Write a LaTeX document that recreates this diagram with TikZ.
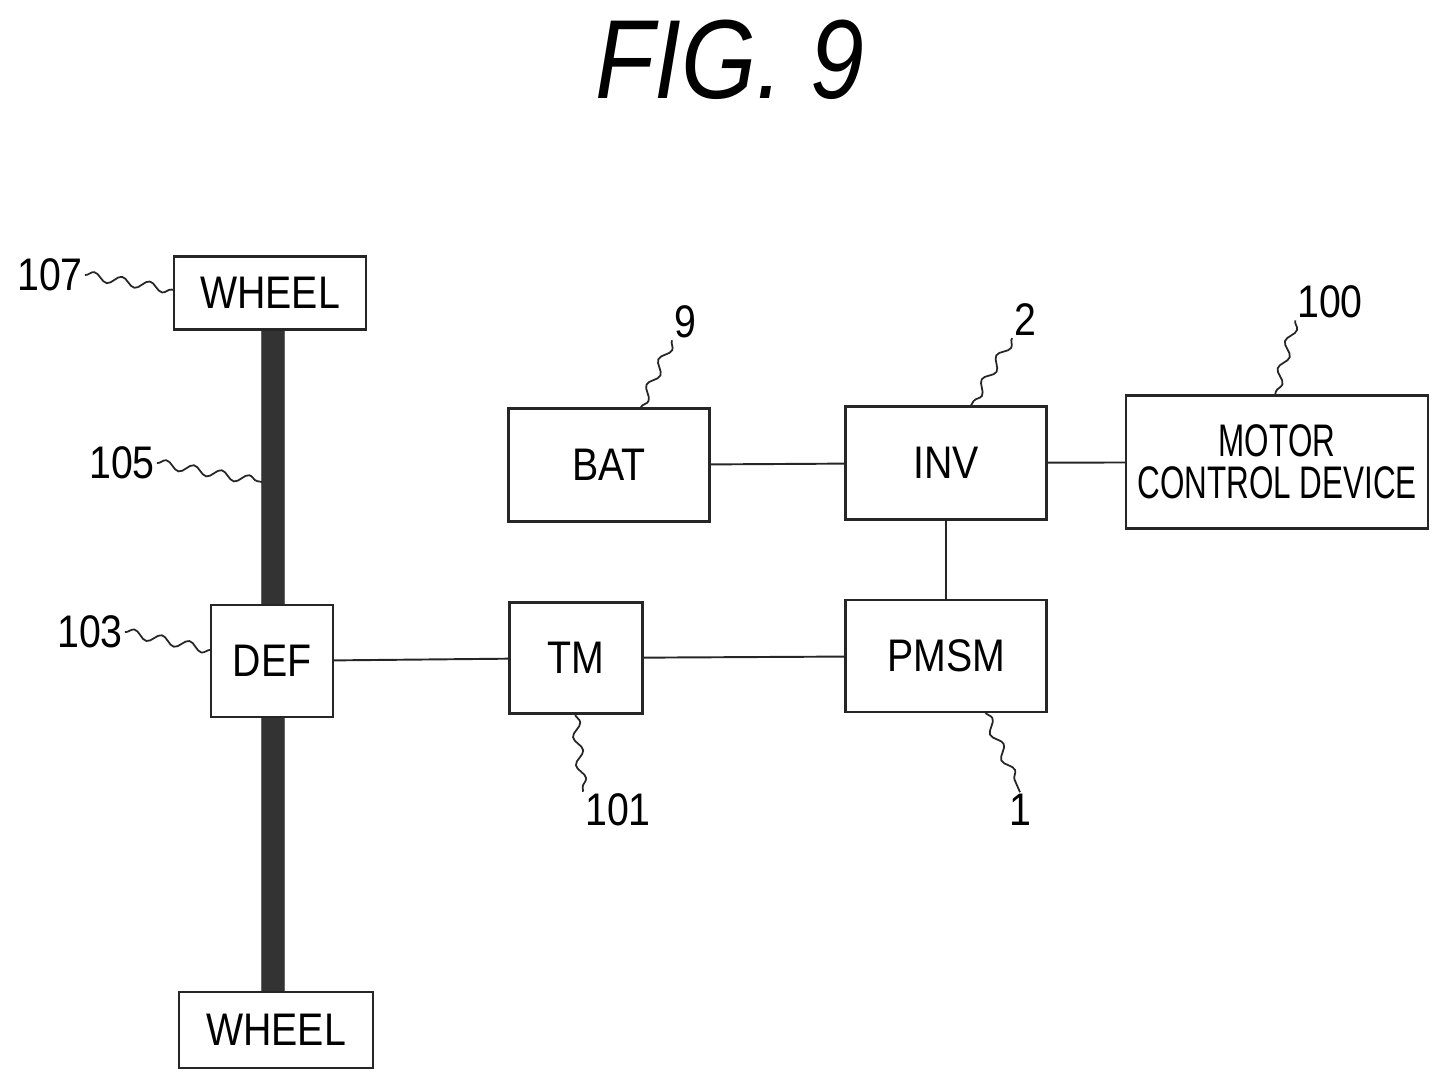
\documentclass[tikz,border=0pt]{standalone}
\usepackage{fontspec}
\setmainfont{Liberation Sans}[FakeStretch=0.86]
\usetikzlibrary{decorations.pathmorphing}
\tikzset{
    blk/.style = {draw=black!85, line width=1.3pt, fill=white, rectangle, inner sep=0pt, font=\fontsize{26}{26}\selectfont},
    link/.style = {draw=black!85, line width=1.1pt},
    shaft/.style = {fill=black!80, draw=black!60},
    refnum/.style = {font=\fontsize{26}{26}\selectfont, inner sep=1pt},
    leader/.style = {draw=black!85, line width=1pt, decorate, decoration={snake, amplitude=2.5pt, segment length=16pt}},
}
\begin{document}
\begin{tikzpicture}[x=0.02cm, y=-0.02cm]
\useasboundingbox (0,0) rectangle (1451,1090);
\node[font=\fontsize{64}{64}\selectfont\itshape] (title) at (730,60) {FIG. 9};

% axle
\fill[shaft] (261,330) rectangle (284,992);

% blocks
\node[blk, minimum width=192*0.02cm, minimum height=73*0.02cm] (wheelA) at (270,293) {WHEEL};
\node[blk, minimum width=194*0.02cm, minimum height=76*0.02cm] (wheelB) at (276,1030) {WHEEL};
\node[blk, minimum width=122*0.02cm, minimum height=112*0.02cm] (def) at (272,661) {DEF};
\node[blk, minimum width=201*0.02cm, minimum height=113*0.02cm] (bat) at (609,465) {BAT};
\node[blk, minimum width=201*0.02cm, minimum height=113*0.02cm] (inv) at (946,463) {INV};
\node[blk, minimum width=302*0.02cm, minimum height=133*0.02cm, align=center] (mcd) at (1277,462)
    {\scalebox{0.8}[1]{MOTOR}\\[-2pt]\scalebox{0.8}[1]{CONTROL DEVICE}};
\node[blk, minimum width=133*0.02cm, minimum height=111*0.02cm] (tm) at (576,658) {TM};
\node[blk, minimum width=201*0.02cm, minimum height=112*0.02cm] (pmsm) at (946,656) {PMSM};

% connections
\draw[link] (bat) -- (inv);
\draw[link] (inv) -- (mcd);
\draw[link] (inv) -- (pmsm);
\draw[link] (def) -- (tm);
\draw[link] (tm) -- (pmsm);

% reference numerals
\node[refnum] (n107) at (50,275) {107};
\node[refnum] (n105) at (122,463) {105};
\node[refnum] (n103) at (90,632) {103};
\node[refnum] (n9) at (685,322) {9};
\node[refnum] (n2) at (1025,320) {2};
\node[refnum] (n100) at (1330,302) {100};
\node[refnum] (n101) at (618,810) {101};
\node[refnum] (n1) at (1020,810) {1};
\coordinate (t107) at (174,290);
\coordinate (t105) at (262,482);
\coordinate (t103) at (211,650);
\coordinate (t9) at (640,409);
\coordinate (t2) at (970,407);
\coordinate (t100) at (1275,395);
\coordinate (t101) at (575,714);
\coordinate (t1) at (985,712);
\draw[leader] (n107.east) -- (t107);
\draw[leader] (n105.east) -- (t105);
\draw[leader] (n103.east) -- (t103);
\draw[leader] (n9.south west) -- (t9);
\draw[leader] (n2.south west) -- (t2);
\draw[leader] (n100.south west) -- (t100);
\draw[leader] (t101) -- (n101.north west);
\draw[leader] (t1) -- (n1.north);
\end{tikzpicture}
\end{document}
